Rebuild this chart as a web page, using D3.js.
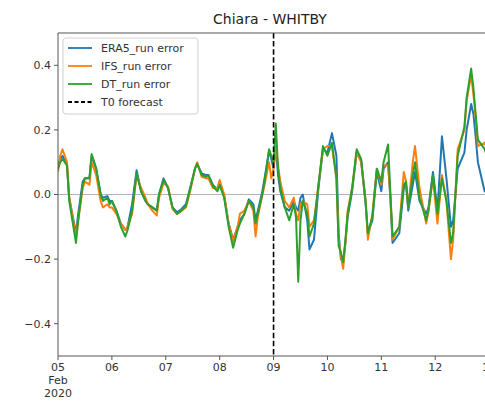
<!DOCTYPE html>
<html>
<head>
<meta charset="utf-8">
<script src="https://cdn.jsdelivr.net/npm/d3@7"></script>
<style>
  html, body { margin: 0; padding: 0; background: #fff; overflow: hidden; }
  svg { display: block; font-family: "DejaVu Sans", sans-serif; }
</style>
</head>
<body>
<svg id="chart" width="485" height="401"></svg>
<script>
'use strict';

// ---- Data -------------------------------------------------------------------

// Hours since 2020-02-05 00:00 UTC
const hours = [
  0, 1, 2, 4, 5, 8, 9, 11, 12, 14, 15, 17, 19, 20, 22, 23, 24, 26, 28, 30,
  31, 33, 35, 37, 39, 40, 42, 44, 45, 47, 49, 51, 53, 55, 57, 59, 61, 62, 64, 66,
  67, 69, 71, 72, 74, 76, 78, 80, 81, 83, 85, 87, 88, 89, 91, 92, 94, 95, 96, 97,
  98, 99, 101, 103, 105, 106, 107, 108, 109, 111, 112, 114, 115, 116, 118, 120, 122, 124, 125, 126,
  127, 128, 129, 131, 133, 135, 137, 138, 140, 142, 144, 145, 147, 148, 149, 152, 154, 155, 156, 158,
  159, 161, 164, 165, 167, 169, 171, 173, 175, 176, 178, 181, 182, 184, 185, 186, 187, 190, 192
];

const era5Err = [
  0.09, 0.11, 0.12, 0.09, -0.01, -0.12, -0.06, 0.04, 0.05, 0.05, 0.12, 0.08, 0.0, -0.01, -0.005, -0.02, -0.02, -0.05, -0.09, -0.11,
  -0.10, -0.03, 0.075, 0.01, -0.02, -0.03, -0.04, -0.05, 0.0, 0.05, 0.02, -0.04, -0.055, -0.045, -0.03, 0.025, 0.08, 0.095, 0.065, 0.06,
  0.06, 0.03, 0.015, 0.03, -0.005, -0.09, -0.14, -0.10, -0.08, -0.06, -0.015, -0.03, -0.08, -0.05, 0.01, 0.05, 0.135, 0.11, 0.08, 0.15,
  0.06, 0.01, -0.04, -0.05, -0.02, -0.04, -0.05, -0.01, 0.0, -0.08, -0.17, -0.14, -0.06, 0.02, 0.14, 0.13, 0.19, 0.12, -0.12, -0.20,
  -0.21, -0.15, -0.07, 0.01, 0.13, 0.105, -0.03, -0.12, -0.08, 0.07, 0.01, 0.08, 0.10, -0.01, -0.15, -0.12, 0.02, 0.03, -0.05, 0.03,
  0.07, -0.02, -0.06, -0.04, 0.07, -0.05, 0.18, 0.05, -0.10, -0.08, 0.08, 0.13, 0.20, 0.28, 0.25, 0.18, 0.10, 0.01, 0.0
];

const ifsErr = [
  0.07, 0.12, 0.14, 0.10, -0.01, -0.13, -0.08, 0.02, 0.04, 0.03, 0.10, 0.06, -0.02, -0.04, -0.03, -0.04, -0.04, -0.06, -0.09, -0.11,
  -0.10, -0.06, 0.06, 0.02, -0.01, -0.03, -0.05, -0.065, -0.01, 0.035, 0.025, -0.045, -0.06, -0.05, -0.04, 0.015, 0.08, 0.10, 0.055, 0.05,
  0.05, 0.02, 0.02, 0.045, 0.0, -0.09, -0.145, -0.10, -0.06, -0.05, -0.02, -0.05, -0.13, -0.07, 0.0, 0.03, 0.10, 0.05, 0.08, 0.15,
  0.09, 0.04, -0.02, -0.04, -0.01, -0.06, -0.08, -0.03, -0.02, -0.03, -0.10, -0.08, -0.03, 0.03, 0.14, 0.15, 0.15, 0.05, -0.14, -0.19,
  -0.23, -0.15, -0.05, 0.02, 0.13, 0.10, -0.02, -0.14, -0.06, 0.08, 0.03, 0.09, 0.09, 0.0, -0.14, -0.10, 0.07, 0.04, -0.04, 0.10,
  0.15, 0.02, -0.09, -0.05, 0.05, -0.09, 0.06, -0.02, -0.20, -0.14, 0.14, 0.20, 0.29, 0.37, 0.31, 0.24, 0.15, 0.16, 0.12
];

const dtErr = [
  0.08, 0.10, 0.11, 0.09, -0.02, -0.15, -0.08, 0.03, 0.05, 0.05, 0.125, 0.08, 0.0, -0.02, -0.01, -0.03, -0.02, -0.05, -0.10, -0.13,
  -0.11, -0.05, 0.065, 0.01, -0.02, -0.03, -0.04, -0.05, 0.0, 0.045, 0.02, -0.04, -0.06, -0.05, -0.035, 0.02, 0.08, 0.095, 0.06, 0.055,
  0.06, 0.025, 0.01, 0.03, -0.01, -0.10, -0.165, -0.11, -0.09, -0.06, -0.02, -0.04, -0.09, -0.06, 0.0, 0.04, 0.14, 0.12, 0.10, 0.22,
  0.08, 0.02, -0.04, -0.08, -0.03, -0.07, -0.27, -0.08, -0.02, -0.06, -0.13, -0.09, -0.03, 0.03, 0.15, 0.12, 0.16, 0.05, -0.16, -0.18,
  -0.21, -0.14, -0.06, 0.02, 0.14, 0.11, -0.02, -0.12, -0.07, 0.08, 0.04, 0.10, 0.155, 0.01, -0.13, -0.10, 0.03, 0.04, -0.04, 0.06,
  0.10, -0.01, -0.08, -0.05, 0.06, -0.06, 0.05, -0.02, -0.15, -0.12, 0.12, 0.21, 0.30, 0.39, 0.33, 0.25, 0.17, 0.14, 0.10
];

const seriesNames = ['ERA5_run error', 'IFS_run error', 'DT_run error'];
const seriesColors = ['#1f77b4', '#ff7f0e', '#2ca02c'];

const dayTicks = [5, 6, 7, 8, 9, 10, 11, 12, 13];
const yTicks = [-0.4, -0.2, 0.0, 0.2, 0.4];
const t0Day = 9;

// ---- Layout -----------------------------------------------------------------

const M = { left: 58, top: 33, bottom: 356, right: 543 };
const svg = d3.select('#chart');

const day = d => new Date(Date.UTC(2020, 1, d));
const base = day(5);

const x = d3.scaleUtc()
  .domain([day(5), day(14)])
  .range([M.left, M.right]);

const y = d3.scaleLinear()
  .domain([-0.5, 0.5])
  .range([M.bottom, M.top]);

svg.append('defs').append('clipPath').attr('id', 'plot-clip')
  .append('rect')
  .attr('x', M.left).attr('y', M.top)
  .attr('width', M.right - M.left).attr('height', M.bottom - M.top);

const plot = svg.append('g').attr('clip-path', 'url(#plot-clip)');

// Zero reference line.
plot.append('line')
  .attr('x1', M.left).attr('x2', M.right)
  .attr('y1', y(0)).attr('y2', y(0))
  .attr('stroke', '#b4b4b4')
  .attr('stroke-width', 1.2);

// ---- Series -----------------------------------------------------------------

const times = hours.map(h => new Date(base.getTime() + h * 3600e3));
const line = d3.line().x((d, i) => x(times[i])).y(d => y(d));

[era5Err, ifsErr, dtErr].forEach((vals, k) => {
  plot.append('path')
    .datum(vals)
    .attr('d', line)
    .attr('fill', 'none')
    .attr('stroke', seriesColors[k])
    .attr('stroke-width', 2)
    .attr('stroke-linejoin', 'round');
});

// T0 forecast marker.
plot.append('line')
  .attr('x1', x(day(t0Day))).attr('x2', x(day(t0Day)))
  .attr('y1', M.top).attr('y2', M.bottom)
  .attr('stroke', '#000')
  .attr('stroke-width', 1.6)
  .attr('stroke-dasharray', '5.5,2.6');

// ---- Axes -------------------------------------------------------------------

const spine = '#555';

svg.append('line')
  .attr('x1', M.left).attr('x2', M.right).attr('y1', M.top).attr('y2', M.top)
  .attr('stroke', spine).attr('stroke-width', 1);
svg.append('line')
  .attr('x1', M.left).attr('x2', M.right).attr('y1', M.bottom).attr('y2', M.bottom)
  .attr('stroke', spine).attr('stroke-width', 1);
svg.append('line')
  .attr('x1', M.left).attr('x2', M.left).attr('y1', M.top).attr('y2', M.bottom)
  .attr('stroke', spine).attr('stroke-width', 1);

const fmt = d3.format('.1f');
const yAxis = svg.append('g');
yTicks.forEach(v => {
  yAxis.append('line')
    .attr('x1', M.left - 4).attr('x2', M.left)
    .attr('y1', y(v)).attr('y2', y(v))
    .attr('stroke', spine);
  yAxis.append('text')
    .attr('x', M.left - 7).attr('y', y(v))
    .attr('dy', '0.35em')
    .attr('text-anchor', 'end')
    .attr('font-size', 11)
    .attr('fill', '#333')
    .text(fmt(v).replace('-', '\u2212'));
});

const xAxis = svg.append('g');
dayTicks.forEach(d => {
  const px = x(day(d));
  xAxis.append('line')
    .attr('x1', px).attr('x2', px)
    .attr('y1', M.bottom).attr('y2', M.bottom + 4)
    .attr('stroke', spine);
  const lines = d === 5 ? ['05', 'Feb', '2020'] : [d3.format('02d')(d)];
  lines.forEach((s, i) => {
    xAxis.append('text')
      .attr('x', px).attr('y', M.bottom + 15 + i * 13)
      .attr('text-anchor', 'middle')
      .attr('font-size', 11)
      .attr('fill', '#333')
      .text(s);
  });
});

// Title.
svg.append('text')
  .attr('x', 270).attr('y', 24)
  .attr('text-anchor', 'middle')
  .attr('font-size', 14)
  .attr('fill', '#222')
  .text('Chiara - WHITBY');

// ---- Legend -----------------------------------------------------------------

const legend = svg.append('g');
legend.append('rect')
  .attr('x', 63).attr('y', 38)
  .attr('width', 135).attr('height', 76)
  .attr('rx', 3)
  .attr('fill', '#fff').attr('fill-opacity', 0.85)
  .attr('stroke', '#d0d0d0');

const legendItems = seriesNames.map((n, i) => ({ name: n, color: seriesColors[i], dash: null }))
  .concat([{ name: 'T0 forecast', color: '#000', dash: '4,2.5' }]);

legendItems.forEach((it, i) => {
  const ly = 48 + i * 18;
  legend.append('line')
    .attr('x1', 68).attr('x2', 92)
    .attr('y1', ly).attr('y2', ly)
    .attr('stroke', it.color)
    .attr('stroke-width', 1.8)
    .attr('stroke-dasharray', it.dash);
  legend.append('text')
    .attr('x', 101).attr('y', ly)
    .attr('dy', '0.35em')
    .attr('font-size', 11)
    .attr('fill', '#333')
    .text(it.name);
});
</script>
</body>
</html>
